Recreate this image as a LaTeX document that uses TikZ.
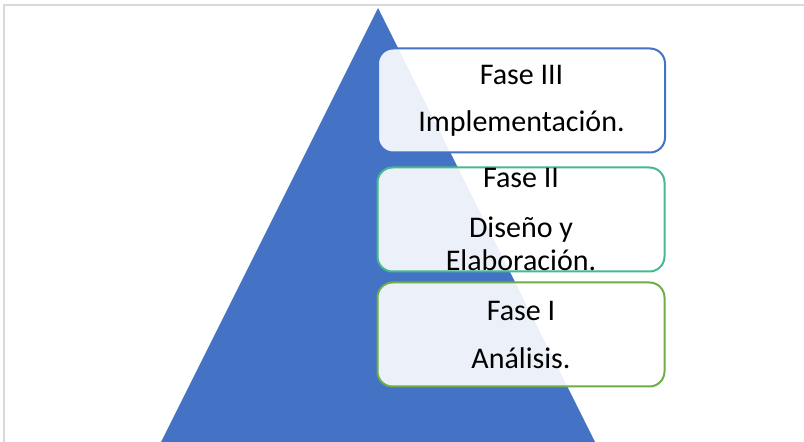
\documentclass[tikz,border=0pt]{standalone}
\usepackage{fontspec}
\setmainfont{Carlito}
\usepackage{xcolor}
\usetikzlibrary{positioning}
\definecolor{pyramid}{HTML}{4472C4}
\definecolor{phaseblue}{HTML}{4472C4}
\definecolor{phaseteal}{HTML}{46B98E}
\definecolor{phasegreen}{HTML}{70AD47}
\definecolor{framegray}{HTML}{D9D9D9}
\tikzset{
  phase/.style ={rounded corners=15pt,line width=2pt,fill=white,fill opacity=0.9,
                 text opacity=1,minimum width=287pt,minimum height=104pt,
                 inner sep=0pt,align=center,
                 font=\fontsize{30}{33}\selectfont},
  edge/.style  ={draw=framegray,line width=2pt}
}

\begin{document}
\begin{tikzpicture}[x=1pt,y=1pt]
    \useasboundingbox (0,0) rectangle (804,442);
    \clip (0,0) rectangle (804,442);
    % frame and pyramid
    \draw[edge] (4,0) -- (4,437) -- (804,437);
    \fill[pyramid] (378,434) -- (595,0) -- (161,0) -- cycle;
    % phases, top to bottom
    \node[phase,draw=phaseblue] (fase3) at (521.5,341.5)
      {Fase III\\[14pt]Implementación.};
    \node[phase,draw=phaseteal] (fase2) at (521,222.5)
      {Fase II\\[17pt]Diseño y\\Elaboración.};
    \node[phase,draw=phasegreen] (fase1) at (521,107.5)
      {Fase I\\[15pt]Análisis.};
  \end{tikzpicture}
\end{document}
